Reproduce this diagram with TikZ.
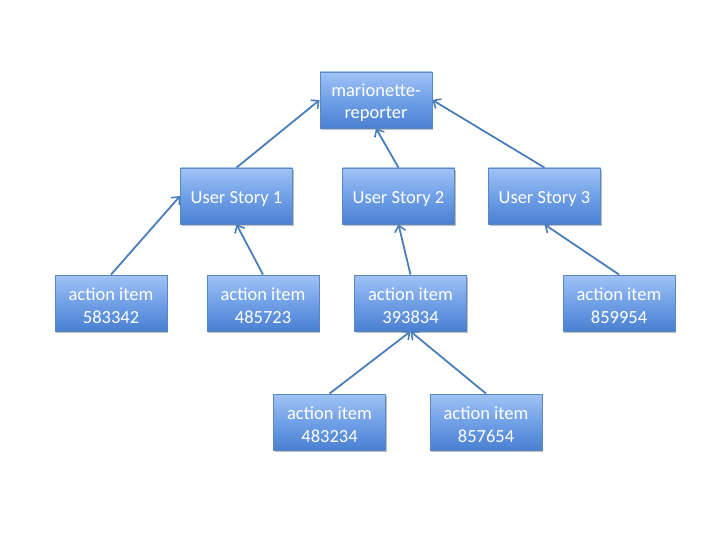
\documentclass[tikz,border=0pt]{standalone}
\usepackage{fontspec}
\setmainfont{Carlito}
\usetikzlibrary{arrows.meta,shadows}
\definecolor{boxtop}{HTML}{A0C3F6}
\definecolor{boxmid}{HTML}{70A0E6}
\definecolor{boxbot}{HTML}{4A80D2}
\definecolor{boxline}{HTML}{5A86C4}
\definecolor{linkc}{HTML}{4A7EBB}
\newcommand{\lowr}[1]{\raisebox{-2.5pt}[\height][\depth]{#1}}
\tikzset{
  item/.style={draw=boxline, line width=0.8pt, top color=boxtop, bottom color=boxbot, middle color=boxmid,
    minimum width=112pt, minimum height=56pt, align=center, text=white, inner sep=2pt,
    font=\fontsize{18.5}{22.5}\selectfont,
    drop shadow={shadow xshift=1.2pt, shadow yshift=-1.8pt, opacity=0.25, fill=black}},
  link/.style={draw=linkc, line width=1.8pt, -{Straight Barb[length=6pt,width=11pt,line width=1.6pt]}}
}
\begin{document}
\begin{tikzpicture}[x=1pt,y=-1pt]
\useasboundingbox (0,0) rectangle (720,540);
\node[item] (mr) at (376,100) {\lowr{marionette-}\\\lowr{reporter}};
\node[item] (us1) at (236.5,196) {\lowr{User Story 1}};
\node[item] (us2) at (398.5,196) {\lowr{User Story 2}};
\node[item] (us3) at (544.5,196) {\lowr{User Story 3}};
\node[item] (a1) at (111,303) {\lowr{action item}\\\lowr{583342}};
\node[item] (a2) at (263,303) {\lowr{action item}\\\lowr{485723}};
\node[item] (a3) at (410.5,303) {\lowr{action item}\\\lowr{393834}};
\node[item] (a4) at (619,303) {\lowr{action item}\\\lowr{859954}};
\node[item] (a5) at (329.5,422) {\lowr{action item}\\\lowr{483234}};
\node[item] (a6) at (486,422) {\lowr{action item}\\\lowr{857654}};
\draw[link] (us1.north) -- (mr.west);
\draw[link] (us2.north) -- (mr.south);
\draw[link] (us3.north) -- (mr.east);
\draw[link] (a1.north) -- (us1.west);
\draw[link] (a2.north) -- (us1.south);
\draw[link] (a3.north) -- (us2.south);
\draw[link] (a4.north) -- (us3.south);
\draw[link] (a5.north) -- (a3.south);
\draw[link] (a6.north) -- (a3.south);
\end{tikzpicture}
\end{document}
